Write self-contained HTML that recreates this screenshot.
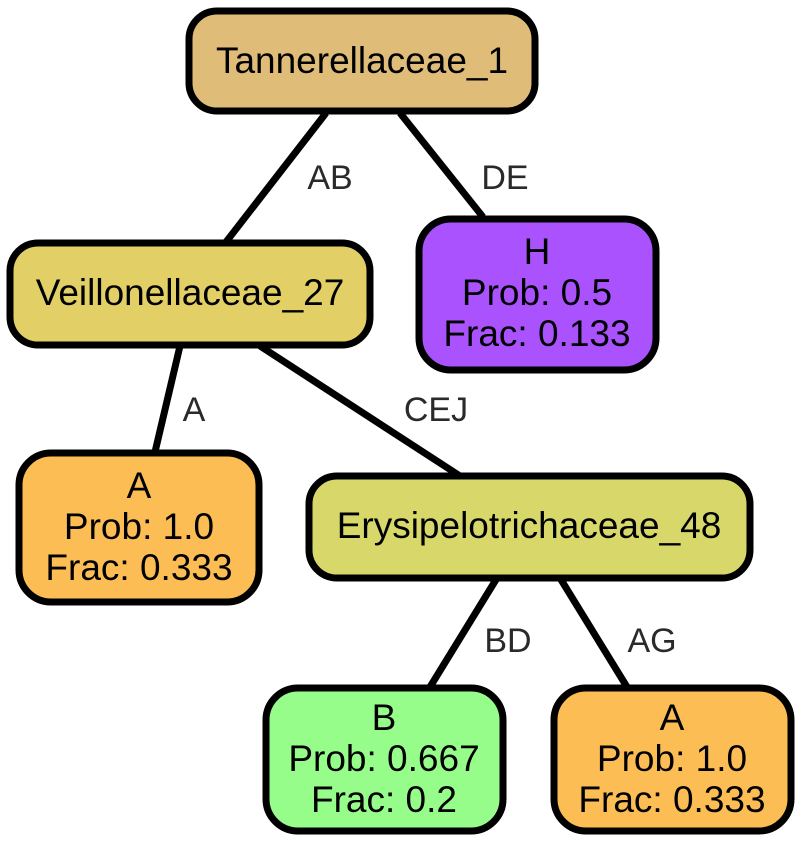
<!DOCTYPE html>
<html><head><meta charset="utf-8"><style>
html,body{margin:0;padding:0;background:#fff;}
svg{display:block;}
text{font-family:"Liberation Sans",Arial,sans-serif;font-size:37px;text-anchor:middle;fill:#000;}
.e{fill:#2a2a2a;font-size:34px;}
</style></head><body>
<svg width="803" height="846" viewBox="0 0 803 846" xmlns="http://www.w3.org/2000/svg">
<g stroke="#000" stroke-width="7" fill="none">
<line x1="326" y1="113" x2="226" y2="242"/>
<line x1="400" y1="113" x2="483" y2="217"/>
<line x1="180" y1="346" x2="155" y2="452"/>
<line x1="260" y1="346" x2="460" y2="476"/>
<line x1="497" y1="578" x2="430" y2="687"/>
<line x1="560" y1="578" x2="627" y2="687"/>
</g>
<text class="e" x="330" y="189">AB</text>
<text class="e" x="505" y="189">DE</text>
<text class="e" x="194" y="421">A</text>
<text class="e" x="436" y="421">CEJ</text>
<text class="e" x="508" y="652">BD</text>
<text class="e" x="652" y="652">AG</text>
<g stroke="#000" stroke-width="7">
<rect x="189" y="11" width="346" height="100" rx="28" fill="#dfbd78"/>
<rect x="10" y="243" width="360" height="102" rx="28" fill="#e2cf65"/>
<rect x="419" y="219" width="237" height="151" rx="32" fill="#a952fd"/>
<rect x="19" y="453" width="240" height="149" rx="32" fill="#fdbd55"/>
<rect x="309" y="476" width="441" height="102" rx="28" fill="#d8d86a"/>
<rect x="266" y="688" width="237" height="143" rx="32" fill="#96fd8a"/>
<rect x="554" y="688" width="237" height="143" rx="32" fill="#fdbd55"/>
</g>
<text x="362" y="73">Tannerellaceae_1</text>
<text x="190" y="305">Veillonellaceae_27</text>
<text x="537" y="264">H</text>
<text x="537" y="305">Prob: 0.5</text>
<text x="537" y="346">Frac: 0.133</text>
<text x="139" y="498">A</text>
<text x="139" y="539">Prob: 1.0</text>
<text x="139" y="580">Frac: 0.333</text>
<text x="529" y="538">Erysipelotrichaceae_48</text>
<text x="384" y="730">B</text>
<text x="384" y="771">Prob: 0.667</text>
<text x="384" y="812">Frac: 0.2</text>
<text x="672" y="730">A</text>
<text x="672" y="771">Prob: 1.0</text>
<text x="672" y="812">Frac: 0.333</text>
</svg>
</body></html>
